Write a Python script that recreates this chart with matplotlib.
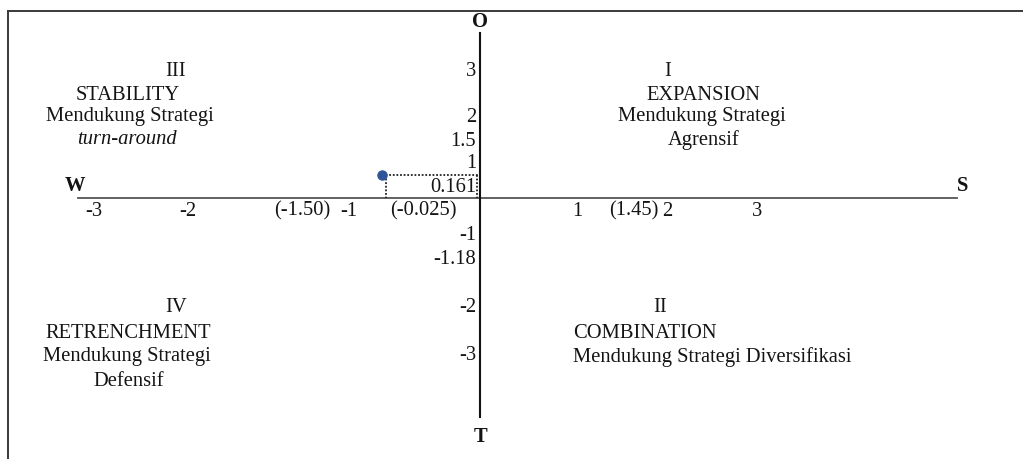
import matplotlib.pyplot as plt
from matplotlib.lines import Line2D

W, H = 1023, 459

# point as it sits on the diagram (diagram units: 1 x-unit = 96 px, 1 y-unit = 46 px)
point_x = -1.02
point_y = 0.50

# axis extents (diagram units)
x_axis = (-4.19, 4.97)
y_axis = (-4.76, 3.59)

# tick labels along the axes, as written in the figure
x_tick_text = ["-3", "-2", "(-1.50)", "-1", "(-0.025)", "1", "(1.45)", "2", "3"]
x_tick_px = [94, 188, 302, 349, 423, 577, 634, 667, 757]
y_tick_text = ["3", "2", "1.5", "1", "0.161", "-1", "-1.18", "-2", "-3"]
y_tick_py = [72, 118, 142, 164, 187, 235, 259, 307, 355]

# quadrant captions: (lines, x, y, align)
quadrants = [
    (["III", "STABILITY", "Mendukung Strategi", "turn-around"],
     [176, 128, 130, 127], [72, 95, 117, 140], "center"),
    (["I", "EXPANSION", "Mendukung Strategi", "Agrensif"],
     [668, 703, 702, 704], [72, 95, 117, 140], "center"),
    (["IV", "RETRENCHMENT", "Mendukung Strategi", "Defensif"],
     [176, 128, 127, 129], [307, 333, 357, 382], "center"),
    (["II", "COMBINATION", "Mendukung Strategi Diversifikasi"],
     [660, 573, 573], [307, 333, 357], "mixed"),
]

ends = [("O", 480, 22), ("T", 480, 437), ("W", 75, 186), ("S", 963, 186)]

plt.rcParams['font.family'] = ['Liberation Serif', 'DejaVu Serif']
fs = 14.8
tc = "#141414"

fig = plt.figure(figsize=(W / 100, H / 100), dpi=100)
ax = fig.add_axes([0, 0, 1, 1])
ax.set_xlim(-480 / 96, (W - 480) / 96)
ax.set_ylim((198 - H) / 46, 198 / 46)
ax.axis("off")

def fx(px):
    return px / W

def fy(py):
    return 1 - py / H

# outer frame (cut at right and bottom)
fig.add_artist(Line2D([fx(8), 1], [fy(11), fy(11)], color="#3a3a3a", lw=1.4))
fig.add_artist(Line2D([fx(8), fx(8)], [fy(11), 0], color="#3a3a3a", lw=1.4))

# axes
ax.plot(x_axis, [0, 0], color="#555555", lw=1.3)
ax.plot([0, 0], y_axis, color="#111111", lw=1.5)

# dotted guides from the point to the axes
ax.plot([point_x, 0], [point_y, point_y], color="#222222", lw=1.3, ls=(0, (1, 1)))
ax.plot([point_x + 0.04, point_x + 0.04], [point_y, 0], color="#222222", lw=1.3, ls=(0, (1, 1)))
ax.plot([-0.03, -0.03], [point_y, 0], color="#222222", lw=1.3, ls=(0, (1, 1)))
ax.plot([point_x], [point_y], "o", color="#2e5597", ms=6.5, zorder=5)

for t, px in zip(x_tick_text, x_tick_px):
    fig.text(fx(px), fy(211), t, ha="center", va="center", fontsize=fs, color=tc)
for t, py in zip(y_tick_text, y_tick_py):
    fig.text(fx(476), fy(py), t, ha="right", va="center", fontsize=fs, color=tc)

for lines, xs, ys, align in quadrants:
    for i, (t, px, py) in enumerate(zip(lines, xs, ys)):
        ha = "center" if (align == "center" or i == 0) else "left"
        style = "italic" if t == "turn-around" else "normal"
        fig.text(fx(px), fy(py), t, ha=ha, va="center", fontsize=fs,
                 color=tc, style=style)

for t, px, py in ends:
    fig.text(fx(px), fy(py), t, ha="center", va="center", fontsize=fs,
             color=tc, weight="bold")

fig.savefig("out.png", dpi=100)
